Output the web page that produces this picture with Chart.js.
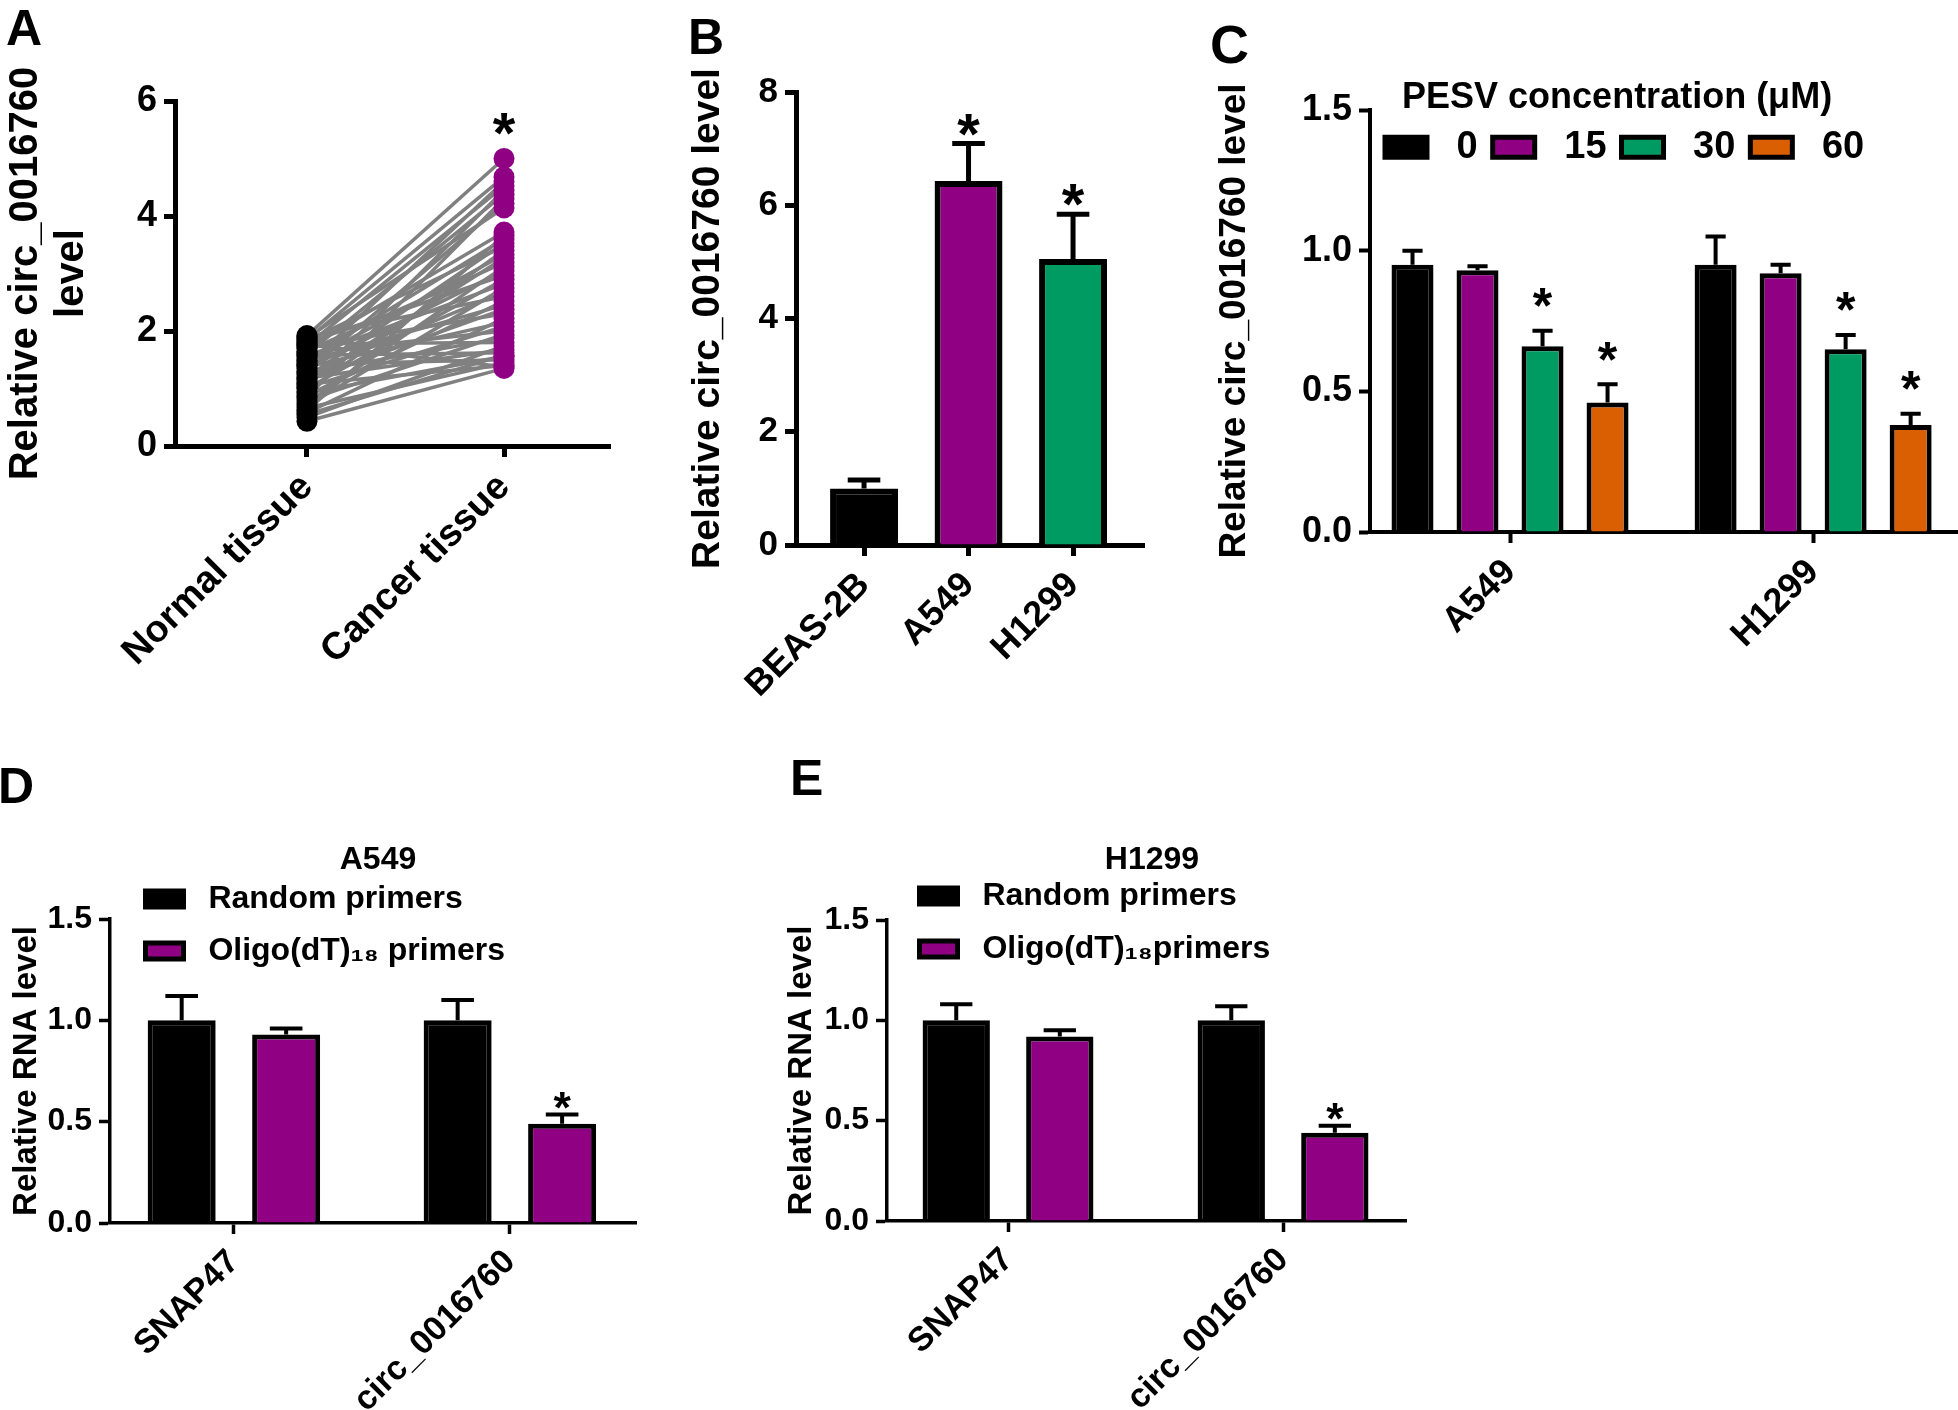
<!DOCTYPE html>
<html>
<head>
<meta charset="utf-8">
<script src="https://cdn.jsdelivr.net/npm/chart.js@4.4.1/dist/chart.umd.min.js"></script>
<style>
html, body { margin: 0; padding: 0; background: #ffffff; }
body { width: 1958px; height: 1410px; position: relative; overflow: hidden; font-family: "Liberation Sans", Arial, Helvetica, sans-serif; }
canvas { position: absolute; }
.panel { position: absolute; font-weight: bold; font-size: 50px; line-height: 1; color: #000; }
</style>
</head>
<body>
<div class="panel" style="left:6px;top:3px">A</div>
<div class="panel" style="left:688px;top:12px">B</div>
<div class="panel" style="left:1210px;top:17px;font-size:54px">C</div>
<div class="panel" style="left:-2px;top:761px">D</div>
<div class="panel" style="left:790px;top:753px">E</div>

<canvas id="cA" width="640" height="740" style="left:0px;top:0px"></canvas>
<canvas id="cB" width="540" height="740" style="left:640px;top:0px"></canvas>
<canvas id="cC" width="768" height="740" style="left:1190px;top:0px"></canvas>
<canvas id="cD" width="700" height="670" style="left:0px;top:740px"></canvas>
<canvas id="cE" width="700" height="670" style="left:760px;top:740px"></canvas>

<script>
// ================= DATA =================
// Panel A: paired tissue samples
const tissueLabels = ['Normal tissue', 'Cancer tissue'];
const yTicksA = [0, 2, 4, 6];
const normalVals = [1.92, 1.85, 1.40, 1.75, 1.05, 1.60, 0.85, 1.30, 1.88,
                    1.70, 0.62, 1.50, 1.20, 1.83, 0.95, 1.45, 1.10, 1.65, 0.75,
                    1.35, 1.80, 1.00, 1.55, 0.70, 1.25, 1.90, 0.88, 1.48, 1.15,
                    1.72, 0.58, 1.38, 1.02, 1.62, 0.80, 1.28, 1.78, 0.50, 1.18,
                    1.58, 0.92, 1.42, 0.66, 1.08, 0.43, 1.76, 0.55];
const cancerVals = [5.00, 4.68, 4.60, 4.52, 4.45, 4.38, 4.30, 4.22, 4.14,
                    3.72, 3.66, 3.60, 3.53, 3.47, 3.40, 3.33, 3.27, 3.19, 3.12,
                    3.05, 2.97, 2.90, 2.82, 2.75, 2.68, 2.60, 2.52, 2.45, 2.38,
                    2.30, 2.22, 2.15, 2.08, 2.00, 1.94, 1.88, 1.80, 1.74, 1.68,
                    1.62, 1.56, 1.50, 1.45, 1.40, 1.35, 1.38, 1.58];

// Panel B: cell lines
const cellLinesB = ['BEAS-2B', 'A549', 'H1299'];
const yTicksB = [0, 2, 4, 6, 8];
const levelB = [1.00, 6.43, 5.05];
const errB = [0.15, 0.66, 0.79];
const sigB = [false, true, true];

// Panel C: PESV concentrations
const cellLinesC = ['A549', 'H1299'];
const pesvDoses = ['0', '15', '30', '60'];
const yTicksC = [0, 0.5, 1.0, 1.5];
const levelC0 = [0.95, 0.95];
const levelC15 = [0.93, 0.92];
const levelC30 = [0.66, 0.65];
const levelC60 = [0.46, 0.38];
const errC0 = [0.05, 0.10];
const errC15 = [0.015, 0.03];
const errC30 = [0.055, 0.05];
const errC60 = [0.065, 0.04];
const sigC0 = [false, false];
const sigC15 = [false, false];
const sigC30 = [true, true];
const sigC60 = [true, true];

// Panels D/E: primers
const genesDE = ['SNAP47', 'circ_0016760'];
const yTicksDE = [0, 0.5, 1.0, 1.5];
const primerNamesD = ['Random primers', 'Oligo(dT)\u2081\u2088 primers'];
const primerNamesE = ['Random primers', 'Oligo(dT)\u2081\u2088primers'];
const randomD = [1.00, 1.00];
const errRandomD = [0.12, 0.10];
const oligoD = [0.93, 0.49];
const errOligoD = [0.03, 0.045];
const sigOligoD = [false, true];
const randomE = [1.00, 1.00];
const errRandomE = [0.08, 0.07];
const oligoE = [0.92, 0.44];
const errOligoE = [0.03, 0.035];
const sigOligoE = [false, true];

// ================= STYLE =================
const FONT = '"Liberation Sans", Arial, Helvetica, sans-serif';
const COL = { black: '#000000', purple: '#8F0083', green: '#009B62', orange: '#DA5F02', gray: '#808080' };
Chart.defaults.font.family = FONT;
Chart.defaults.font.weight = 'bold';
Chart.defaults.color = '#000';

const pts = (vals) => vals.map((v, i) => ({ x: i, y: v }));

// ================= PLUGINS =================
function drawStar(ctx, x, inkBottom, inkH) {
  ctx.save();
  ctx.font = 'bold 100px ' + FONT;
  const m = ctx.measureText('*');
  const h100 = m.actualBoundingBoxAscent + m.actualBoundingBoxDescent;
  const size = 100 * inkH / h100;
  ctx.font = 'bold ' + size.toFixed(1) + 'px ' + FONT;
  const m2 = ctx.measureText('*');
  ctx.fillStyle = '#000';
  ctx.textAlign = 'center';
  ctx.textBaseline = 'alphabetic';
  ctx.fillText('*', x, inkBottom - m2.actualBoundingBoxDescent);
  ctx.restore();
}

const errorBars = {
  id: 'errorBars',
  afterDatasetsDraw(chart, args, opts) {
    const ctx = chart.ctx;
    const ys = chart.scales.y, xs = chart.scales.x;
    chart.data.datasets.forEach((ds, di) => {
      if (!ds.errorBars) return;
      const meta = chart.getDatasetMeta(di);
      meta.data.forEach((bar, i) => {
        const v = ds.data[i].y, e = ds.errorBars[i];
        const top = ys.getPixelForValue(v + e);
        const base = ys.getPixelForValue(v);
        const capW = bar.width * opts.capRatio;
        ctx.save();
        ctx.strokeStyle = '#000';
        ctx.lineWidth = opts.lineWidth;
        ctx.lineCap = 'butt';
        ctx.beginPath();
        ctx.moveTo(bar.x, base);
        ctx.lineTo(bar.x, top);
        ctx.moveTo(bar.x - capW / 2, top);
        ctx.lineTo(bar.x + capW / 2, top);
        ctx.stroke();
        ctx.restore();
        if (ds.sig && ds.sig[i]) drawStar(ctx, bar.x, top - opts.starGap, opts.starH);
      });
    });
    if (opts.stars) {
      opts.stars.forEach(s => drawStar(ctx, xs.getPixelForValue(s.x), ys.getPixelForValue(s.y) - opts.starGap, opts.starH));
    }
  }
};

// Lets legend / title float over the plot (as in the original figure) instead of taking layout space
const floatBoxes = {
  id: 'floatBoxes',
  beforeLayout(chart) {
    ['legend', 'titleBlock'].forEach(key => {
      const box = chart[key];
      if (!box || box.$floatWrapped || typeof box.update !== 'function') return;
      const upd = box.update.bind(box);
      box.update = function (...a) {
        upd(...a);
        this.$w = this.width; this.$h = this.height;
        if (this.isHorizontal()) this.height = 0; else this.width = 0;
      };
      box.$floatWrapped = true;
    });
  },
  afterLayout(chart, args, opts) {
    const lg = chart.legend, tb = chart.titleBlock;
    if (lg && opts.legend && lg.options.display) {
      lg.left = opts.legend.x; lg.top = opts.legend.y;
      lg.right = chart.width; lg.width = lg.right - lg.left;
      lg.height = Math.max(lg.$h || 0, 600); lg.bottom = lg.top + lg.height;
    }
    if (tb && opts.title && tb.options.display) {
      const lh = Chart.helpers.toFont(tb.options.font).lineHeight;
      tb.left = opts.title.cx - 300; tb.right = opts.title.cx + 300; tb.width = 600;
      tb.top = opts.title.cy - lh / 2; tb.height = lh; tb.bottom = tb.top + lh;
    }
  }
};

const spacedLabels = (chart) => Chart.defaults.plugins.legend.labels.generateLabels(chart)
  .map(it => Object.assign(it, { text: ' ' + it.text }));

// ================= AXIS HELPERS =================
function yAxis(o) {
  return {
    type: 'linear', position: 'left',
    min: o.ticks[0], max: o.ticks[o.ticks.length - 1],
    afterBuildTicks: s => { s.ticks = o.ticks.map(v => ({ value: v })); },
    afterFit: s => { s.width = o.width; },
    ticks: { color: '#000', font: { size: o.tickFont, weight: 'bold' }, padding: 7,
             callback: v => o.fixed ? Number(v).toFixed(1) : String(v) },
    grid: { drawOnChartArea: false, drawTicks: true, tickLength: 11, tickWidth: o.lw, tickColor: '#000', offset: false },
    border: { display: true, color: '#000', width: o.lw },
    title: { display: true, text: o.title, color: '#000',
             font: { size: o.titleFont, weight: 'bold', lineHeight: o.titleLH || 1.2 },
             padding: { top: o.titlePad, bottom: 0 } }
  };
}
function xAxis(o) {
  return {
    type: 'linear', position: 'bottom', min: o.min, max: o.max, offset: false,
    afterBuildTicks: s => { s.ticks = o.labels.map((_, i) => ({ value: i })); },
    afterFit: s => { s.height = o.height; },
    ticks: { color: '#000', font: { size: o.tickFont, weight: 'bold' }, autoSkip: false,
             minRotation: 45, maxRotation: 45, padding: o.pad,
             callback: v => o.labels[Math.round(v)] },
    grid: { drawOnChartArea: false, drawTicks: true, tickLength: 11, tickWidth: o.lw, tickColor: '#000', offset: false },
    border: { display: true, color: '#000', width: o.lw }
  };
}
const base = { responsive: false, animation: false, devicePixelRatio: 1, events: [] };

// ================= PANEL A =================
const pairSets = normalVals.map((n, i) => ({
  type: 'line', data: [{ x: 0, y: n }, { x: 1, y: cancerVals[i] }],
  borderColor: COL.gray, borderWidth: 3.5, pointRadius: 0, fill: false, tension: 0, order: 1
}));
new Chart(document.getElementById('cA'), {
  type: 'line',
  data: {
    datasets: [
      { label: 'Normal', data: normalVals.map(v => ({ x: 0, y: v })), showLine: false,
        pointRadius: 10.5, pointBackgroundColor: COL.black, pointBorderWidth: 0, order: 0 },
      { label: 'Cancer', data: cancerVals.map(v => ({ x: 1, y: v })), showLine: false,
        pointRadius: 10.5, pointBackgroundColor: COL.purple, pointBorderWidth: 0, order: 0 },
      ...pairSets
    ]
  },
  options: Object.assign({}, base, {
    layout: { padding: { left: 0, top: 101, right: 30, bottom: 0 } },
    scales: {
      x: xAxis({ labels: tissueLabels, min: -0.670, max: 1.538, tickFont: 38, height: 294, lw: 5, pad: 8 }),
      y: yAxis({ ticks: yTicksA, tickFont: 36, width: 175, lw: 5,
                 title: ['Relative circ_0016760', 'level'], titleFont: 40, titleLH: 1.15, titlePad: 3 })
    },
    plugins: { legend: { display: false }, tooltip: { enabled: false },
               errorBars: { lineWidth: 4, capRatio: 0.5, starH: 22, starGap: 24,
                            stars: [{ x: 1, y: Math.max(...cancerVals) }] } }
  }),
  plugins: [errorBars]
});

// ================= PANEL B =================
new Chart(document.getElementById('cB'), {
  type: 'bar',
  data: {
    datasets: [{
      label: 'level', data: pts(levelB), errorBars: errB, sig: sigB,
      backgroundColor: [COL.black, COL.purple, COL.green], borderColor: '#000', borderWidth: 6,
      categoryPercentage: 1, barPercentage: 0.65
    }]
  },
  options: Object.assign({}, base, {
    layout: { padding: { left: 0, top: 92, right: 36, bottom: 0 } },
    scales: {
      x: xAxis({ labels: cellLinesB, min: -0.651, max: 2.679, tickFont: 36, height: 195, lw: 5, pad: 8 }),
      y: yAxis({ ticks: yTicksB, tickFont: 35, width: 156, lw: 5,
                 title: 'Relative circ_0016760 level', titleFont: 39, titlePad: 44.6 })
    },
    plugins: { legend: { display: false }, tooltip: { enabled: false },
               errorBars: { lineWidth: 5, capRatio: 0.48, starH: 22, starGap: 8 } }
  }),
  plugins: [errorBars]
});

// ================= PANEL C =================
const levelsC = [levelC0, levelC15, levelC30, levelC60];
const errsC = [errC0, errC15, errC30, errC60];
const sigsC = [sigC0, sigC15, sigC30, sigC60];
const colorsC = [COL.black, COL.purple, COL.green, COL.orange];
new Chart(document.getElementById('cC'), {
  type: 'bar',
  data: {
    datasets: pesvDoses.map((d, k) => ({
      label: d, data: pts(levelsC[k]), errorBars: errsC[k], sig: sigsC[k],
      backgroundColor: colorsC[k], borderColor: '#000', borderWidth: 5,
      categoryPercentage: 0.858, barPercentage: 0.646
    }))
  },
  options: Object.assign({}, base, {
    layout: { padding: { left: 0, top: 110, right: 0, bottom: 0 } },
    scales: {
      x: xAxis({ labels: cellLinesC, min: -0.462, max: 1.478, tickFont: 36, height: 208, lw: 4, pad: 8 }),
      y: yAxis({ ticks: yTicksC, fixed: true, tickFont: 36, width: 180, lw: 4,
                 title: 'Relative circ_0016760 level', titleFont: 37, titlePad: 22.8 })
    },
    plugins: {
      tooltip: { enabled: false },
      legend: { display: true, position: 'top', align: 'start',
        title: { display: true, text: 'PESV concentration (\u03BCM)', color: '#000',
                 font: { size: 36, weight: 'bold' }, padding: { top: 10, bottom: -10 } },
        labels: { boxWidth: 42, boxHeight: 20, padding: 15, color: '#000',
                  font: { size: 38, weight: 'bold' }, generateLabels: spacedLabels } },
      floatBoxes: { legend: { x: 180, y: 70 } },
      errorBars: { lineWidth: 4, capRatio: 0.48, starH: 19, starGap: 10 }
    }
  }),
  plugins: [errorBars, floatBoxes]
});

// ================= PANELS D / E =================
function primerChart(id, title, names, rnd, eRnd, olg, eOlg, sOlg, g) {
  new Chart(document.getElementById(id), {
    type: 'bar',
    data: {
      datasets: [
        { label: names[0], data: pts(rnd), errorBars: eRnd, backgroundColor: COL.black,
          borderColor: '#000', borderWidth: 5, categoryPercentage: g.cp, barPercentage: g.bp },
        { label: names[1], data: pts(olg), errorBars: eOlg, sig: sOlg, backgroundColor: COL.purple,
          borderColor: '#000', borderWidth: 5, categoryPercentage: g.cp, barPercentage: g.bp }
      ]
    },
    options: Object.assign({}, base, {
      layout: { padding: { left: 0, top: g.top, right: g.right, bottom: 0 } },
      scales: {
        x: xAxis({ labels: genesDE, min: g.xmin, max: g.xmax, tickFont: 34, height: g.xh, lw: 3.5, pad: 8 }),
        y: yAxis({ ticks: yTicksDE, fixed: true, tickFont: 32, width: g.yw, lw: 3.5,
                   title: 'Relative RNA level', titleFont: 33, titlePad: g.tpad })
      },
      plugins: {
        tooltip: { enabled: false },
        title: { display: true, text: title, color: '#000', font: { size: 32, weight: 'bold' },
                 padding: 0, fullSize: false },
        legend: { display: true, position: 'left', align: 'start',
          labels: { boxWidth: 38, boxHeight: 16, padding: g.lpad, color: '#000',
                    font: { size: 32, weight: 'bold' }, generateLabels: spacedLabels } },
        floatBoxes: { legend: { x: g.lx, y: g.ly }, title: { cx: g.tcx, cy: 120 } },
        errorBars: { lineWidth: 4, capRatio: 0.48, starH: 17, starGap: 6 }
      }
    }),
    plugins: [errorBars, floatBoxes]
  });
}
primerChart('cD', 'A549', primerNamesD, randomD, errRandomD, oligoD, errOligoD, sigOligoD,
  { cp: 0.757, bp: 0.651, top: 179, right: 64, xmin: -0.449, xmax: 1.457, xh: 187, yw: 110,
    tpad: 7.2, lpad: 20, lx: 125.5, ly: 123, tcx: 378 });
primerChart('cE', 'H1299', primerNamesE, randomE, errRandomE, oligoE, errOligoE, sigOligoE,
  { cp: 0.753, bp: 0.65, top: 180, right: 54, xmin: -0.44, xmax: 1.447, xh: 189, yw: 127,
    tpad: 22.2, lpad: 21, lx: 138.5, ly: 119, tcx: 392 });
</script>
</body>
</html>
